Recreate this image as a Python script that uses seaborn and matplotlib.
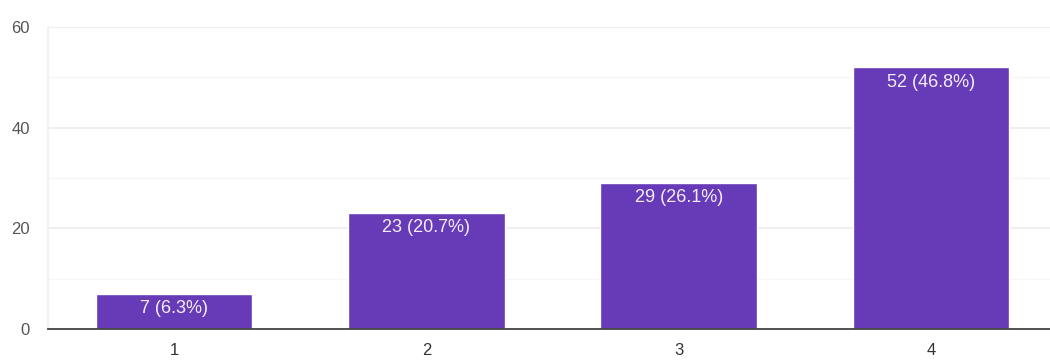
import matplotlib
matplotlib.use("Agg")
import matplotlib.pyplot as plt
import seaborn as sns
import pandas as pd

# Survey response counts per rating
ratings = ["1", "2", "3", "4"]
counts = [7, 23, 29, 52]
percents = [6.3, 20.7, 26.1, 46.8]
y_ticks = [0, 20, 40, 60]
minor_ticks = [10, 30, 50]

df = pd.DataFrame({"rating": ratings, "count": counts})

sns.set_theme(style="white")
plt.rcParams["font.family"] = ["Liberation Sans", "DejaVu Sans"]

fig = plt.figure(figsize=(10.5, 3.6), dpi=100)
W, H = 1050, 360
left, right = 48, 1057
bottom, top = 329, 27
ax = fig.add_axes([left / W, (H - bottom) / H, (right - left) / W, (bottom - top) / H])

sns.barplot(data=df, x="rating", y="count", color="#673ab7", saturation=1,
            width=0.62, ax=ax, zorder=3)

ax.set_ylim(0, 60)
ax.set_xlim(-0.5, 3.5)
ax.set_yticks(y_ticks)
ax.set_yticks(minor_ticks, minor=True)
ax.grid(axis="y", which="major", color="#ececec", linewidth=1.2, zorder=0)
ax.grid(axis="y", which="minor", color="#f6f6f6", linewidth=1.0, zorder=0)
ax.tick_params(axis="y", which="both", length=0, labelsize=12, labelcolor="#555555", pad=13)
ax.tick_params(axis="x", length=0, labelsize=12, labelcolor="#333333", pad=10)
ax.set_xlabel("")
ax.set_ylabel("")

for side in ["top", "right"]:
    ax.spines[side].set_visible(False)
ax.spines["left"].set_color("#f0f0f0")
ax.spines["left"].set_linewidth(1.2)
ax.spines["bottom"].set_color("#444444")
ax.spines["bottom"].set_linewidth(1.3)
ax.spines["bottom"].set_zorder(4)

for i, (c, p) in enumerate(zip(counts, percents)):
    ax.annotate(f"{c} ({p}%)", xy=(i, c), xytext=(0, -4.5), textcoords="offset points",
                ha="center", va="top", color="#f4eefc", fontsize=13, zorder=5)

fig.savefig("out.png", dpi=100)
